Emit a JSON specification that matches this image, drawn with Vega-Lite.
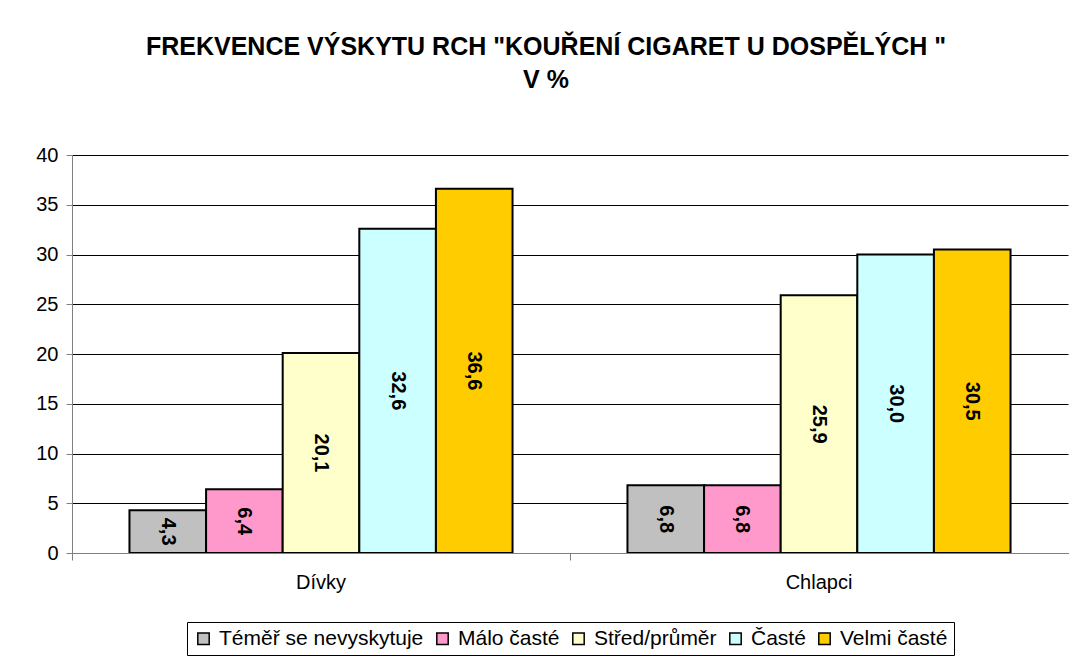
{
  "$schema": "https://vega.github.io/schema/vega-lite/v6.json",
  "width": 996,
  "height": 398,
  "autosize": {"type": "none"},
  "padding": {"left": 72, "top": 155, "right": 7, "bottom": 106},
  "config": {
    "locale": {"number": {"decimal": ",", "thousands": " ", "grouping": [3], "currency": ["", " Kč"]}},
    "font": "Liberation Sans",
    "view": {"stroke": null}
  },
  "title": {
    "text": ["FREKVENCE VÝSKYTU RCH \"KOUŘENÍ CIGARET U DOSPĚLÝCH \"", "V %"],
    "fontSize": 25,
    "fontWeight": "bold",
    "color": "#000000",
    "anchor": "middle",
    "dx": -24,
    "lineHeight": 33,
    "offset": 52
  },
  "data": {
    "values": [
      {"pohlavi": "Dívky", "kategorie": "Téměř se nevyskytuje", "hodnota": 4.3},
      {"pohlavi": "Dívky", "kategorie": "Málo časté", "hodnota": 6.4},
      {"pohlavi": "Dívky", "kategorie": "Střed/průměr", "hodnota": 20.1},
      {"pohlavi": "Dívky", "kategorie": "Časté", "hodnota": 32.6},
      {"pohlavi": "Dívky", "kategorie": "Velmi časté", "hodnota": 36.6},
      {"pohlavi": "Chlapci", "kategorie": "Téměř se nevyskytuje", "hodnota": 6.8},
      {"pohlavi": "Chlapci", "kategorie": "Málo časté", "hodnota": 6.8},
      {"pohlavi": "Chlapci", "kategorie": "Střed/průměr", "hodnota": 25.9},
      {"pohlavi": "Chlapci", "kategorie": "Časté", "hodnota": 30.0},
      {"pohlavi": "Chlapci", "kategorie": "Velmi časté", "hodnota": 30.5}
    ]
  },
  "layer": [
    {
      "mark": {"type": "bar", "stroke": "#000000", "strokeWidth": 2},
      "encoding": {
        "x": {
          "field": "pohlavi", "type": "nominal", "sort": ["Dívky", "Chlapci"],
          "scale": {"paddingInner": 0, "paddingOuter": 0},
          "axis": {
            "title": null, "labelAngle": 0, "bandPosition": 0, "ticks": true, "tickSize": 7,
            "domainColor": "#808080", "tickColor": "#808080", "labelFontSize": 20,
            "labelPadding": 12, "labelColor": "#000000", "zindex": 1
          }
        },
        "xOffset": {
          "field": "kategorie", "type": "nominal",
          "sort": ["Téměř se nevyskytuje", "Málo časté", "Střed/průměr", "Časté", "Velmi časté"],
          "scale": {"paddingOuter": 0.75, "paddingInner": 0}
        },
        "y": {
          "field": "hodnota", "type": "quantitative",
          "scale": {"domain": [0, 40], "nice": false},
          "axis": {
            "title": null, "values": [0, 5, 10, 15, 20, 25, 30, 35, 40], "grid": true,
            "gridColor": "#000000", "gridWidth": 1, "domainColor": "#808080", "tickColor": "#808080",
            "tickSize": 6, "labelFontSize": 20, "labelPadding": 8, "labelColor": "#000000"
          }
        },
        "color": {
          "field": "kategorie", "type": "nominal",
          "scale": {
            "domain": ["Téměř se nevyskytuje", "Málo časté", "Střed/průměr", "Časté", "Velmi časté"],
            "range": ["#C0C0C0", "#FF99CC", "#FFFFCC", "#CCFFFF", "#FFCC00"]
          },
          "legend": {
            "title": null, "orient": "none", "legendX": 115, "legendY": 467,
            "direction": "horizontal", "columns": 5, "symbolType": "square", "symbolSize": 130,
            "symbolStrokeColor": "#000000", "symbolStrokeWidth": 1.5, "labelFontSize": 21,
            "labelColor": "#000000", "strokeColor": "#000000", "fillColor": "#FFFFFF",
            "padding": 6, "columnPadding": 8, "labelOffset": 5, "labelLimit": 400
          }
        }
      }
    },
    {
      "mark": {"type": "text", "angle": 90, "fontSize": 20, "fontWeight": "bold", "align": "center", "baseline": "middle", "color": "#000000"},
      "encoding": {
        "x": {"field": "pohlavi", "type": "nominal", "sort": ["Dívky", "Chlapci"]},
        "xOffset": {
          "field": "kategorie", "type": "nominal",
          "sort": ["Téměř se nevyskytuje", "Málo časté", "Střed/průměr", "Časté", "Velmi časté"]
        },
        "y": {"field": "hodnota", "type": "quantitative", "scale": {"domain": [0, 80], "nice": false}, "axis": null},
        "text": {"field": "hodnota", "type": "quantitative", "format": ".1f"}
      }
    }
  ],
  "resolve": {"scale": {"y": "independent"}}
}
